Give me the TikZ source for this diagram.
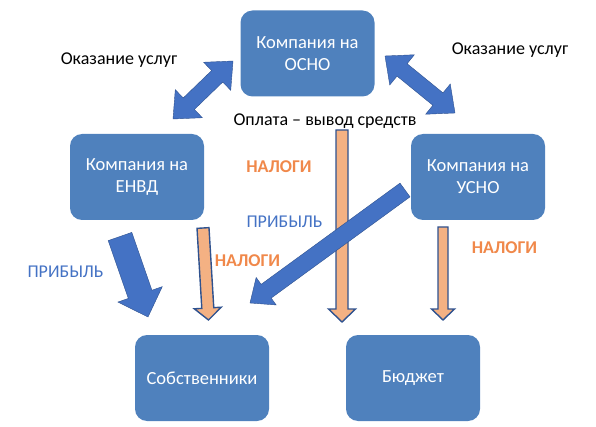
\documentclass[tikz,border=0pt]{standalone}
\usepackage{fontspec}
\setmainfont{Carlito}
\usetikzlibrary{calc}
\definecolor{boxblue}{HTML}{4F81BD}
\definecolor{arrowblue}{HTML}{4472C4}
\definecolor{edgeblue}{HTML}{2F528F}
\definecolor{taxfill}{HTML}{F4B183}
\definecolor{taxtext}{HTML}{F0884A}
\newcommand\diagunit{10pt}
% style, from, to, shaft half width, head half width, head length
\newcommand\fatarrow[6]{%
\coordinate (fah) at ($(#3)!#6!(#2)$);
\draw[#1] ($(#2)!#4!90:(#3)$) -- ($(fah)!#4!90:(#3)$) -- ($(fah)!#5!90:(#3)$) -- (#3)
  -- ($(fah)!#5!-90:(#3)$) -- ($(fah)!#4!-90:(#3)$) -- ($(#2)!#4!-90:(#3)$) -- cycle;
}
\newcommand\fatdarrow[6]{%
\coordinate (fha) at ($(#2)!#6!(#3)$);
\coordinate (fhb) at ($(#3)!#6!(#2)$);
\draw[#1] (#2) -- ($(fha)!#5!90:(#3)$) -- ($(fha)!#4!90:(#3)$) -- ($(fhb)!#4!90:(#3)$)
  -- ($(fhb)!#5!90:(#3)$) -- (#3) -- ($(fhb)!#5!-90:(#3)$) -- ($(fhb)!#4!-90:(#3)$)
  -- ($(fha)!#4!-90:(#3)$) -- ($(fha)!#5!-90:(#3)$) -- cycle;
}

\begin{document}
\begin{tikzpicture}[
x=\diagunit,y=-\diagunit,
box/.style={fill=boxblue,rounded corners=12pt,minimum width=134pt,minimum height=86pt,
  text=white,align=center,font=\fontsize{18.5}{22}\selectfont},
note/.style={font=\fontsize{18}{22}\selectfont},
taxes/.style={text=taxtext,font=\bfseries\fontsize{18}{21}\selectfont},
profit/.style={text=arrowblue,font=\fontsize{18}{21}\selectfont},
bluearrow/.style={fill=arrowblue,draw=edgeblue,thin},
taxarrow/.style={fill=taxfill,draw=edgeblue,line width=1.4pt}
]
\useasboundingbox (0,0) rectangle (59.6,42.7);

\node (osno) at (30.75,5.35) [box] {Компания на\\ОСНО};
\node (envd) at (13.7,17.7) [box] {Компания на\\ЕНВД};
\node (usno) at (47.8,17.7) [box] {Компания на\\УСНО};
\node (owners) at (20.2,37.8) [box] {Собственники};
\node (budget) at (41.3,37.8) [box] {Бюджет};

% arrow ends
\coordinate (sl1) at (17.3,11.9);
\coordinate (sl2) at (23.3,6.1);
\coordinate (sr1) at (38.5,5.6);
\coordinate (sr2) at (45.5,11.3);
\coordinate (tx1) at (34.2,13.0);
\coordinate (tx2) at (34.2,32.2);
\coordinate (te1) at (20.3,22.8);
\coordinate (te2) at (20.85,32.0);
\coordinate (tu1) at (44.3,22.7);
\coordinate (tu2) at (44.3,32.0);
\coordinate (pe1) at (12.0,23.65);
\coordinate (pe2) at (14.8,31.7);
\coordinate (pu1) at (40.5,19.0);
\coordinate (pu2) at (25.0,30.3);

\fatdarrow{bluearrow}{sl1}{sl2}{8pt}{19.5pt}{22pt}
\fatdarrow{bluearrow}{sr1}{sr2}{8pt}{19.5pt}{22pt}

\fatarrow{taxarrow}{tx1}{tx2}{6pt}{13.5pt}{13pt}
\fatarrow{taxarrow}{te1}{te2}{6pt}{13.5pt}{12pt}
\fatarrow{taxarrow}{tu1}{tu2}{5pt}{11.5pt}{11pt}

\fatarrow{bluearrow}{pe1}{pe2}{12.5pt}{23.5pt}{24pt}
\fatarrow{bluearrow}{pu1}{pu2}{8.5pt}{17pt}{20pt}

\node (svc1) at (11.9,6.0) [note] {Оказание услуг};
\node (svc2) at (51.0,5.0) [note] {Оказание услуг};
\node (pay) at (32.5,12.1) [note] {Оплата – вывод средств};

\node (tax1) at (27.9,16.7) [taxes] {НАЛОГИ};
\node (tax2) at (24.75,26.1) [taxes] {НАЛОГИ};
\node (tax3) at (50.45,24.8) [taxes] {НАЛОГИ};
\node (pr1) at (6.55,27.2) [profit] {ПРИБЫЛЬ};
\node (pr2) at (28.45,22.2) [profit] {ПРИБЫЛЬ};

\end{tikzpicture}
\end{document}
